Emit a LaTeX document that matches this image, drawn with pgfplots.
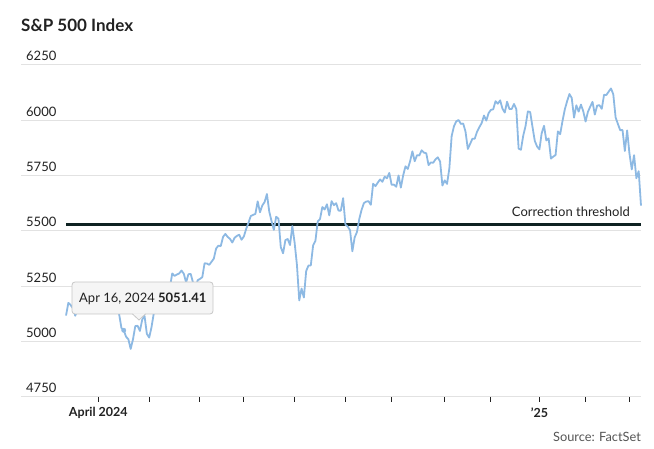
\documentclass[border=0pt]{standalone}
\usepackage{fontspec}
\setmainfont{Lato}
\usepackage{pgfplots}
\usepackage{pgfplotstable}
\pgfplotsset{compat=1.18}

\definecolor{spline}{HTML}{8DB9E3}
\definecolor{thresh}{HTML}{0E2222}
\definecolor{gridc}{HTML}{E2E2E2}
\definecolor{txt}{HTML}{222222}
\definecolor{srcc}{HTML}{555555}

% daily closes, 11 Mar 2024 -- 10 Mar 2025 (one row per trading day)
\pgfplotstableread{
close
5117.94
5175.27
5165.31
5150.48
5117.09
5149.42
5178.51
5224.62
5241.53
5234.18
5218.19
5203.58
5248.49
5254.35
5243.77
5205.81
5211.49
5147.21
5204.34
5202.39
5209.91
5160.64
5199.06
5123.41
5061.82
5051.41
5022.21
5011.12
4967.23
5010.60
5070.55
5071.63
5048.42
5099.96
5116.17
5035.69
5018.39
5064.20
5127.79
5180.74
5187.70
5187.67
5214.08
5222.68
5221.42
5246.68
5308.15
5297.10
5303.27
5308.13
5321.41
5307.01
5267.84
5304.72
5306.04
5266.95
5235.48
5277.51
5283.40
5291.34
5354.03
5352.96
5346.99
5360.79
5375.32
5421.03
5433.74
5431.60
5473.23
5487.03
5473.17
5464.62
5447.87
5469.30
5477.90
5482.87
5460.48
5475.09
5509.01
5537.02
5567.19
5572.85
5576.98
5633.91
5584.54
5615.35
5631.22
5667.20
5588.27
5544.59
5505.00
5564.41
5555.74
5427.13
5399.22
5459.10
5463.54
5436.44
5522.30
5446.68
5346.56
5186.33
5240.03
5199.50
5319.31
5344.16
5344.39
5434.43
5455.21
5543.22
5554.25
5608.25
5597.12
5620.85
5570.64
5634.61
5616.84
5625.80
5592.18
5591.96
5648.40
5528.93
5520.07
5503.41
5408.42
5471.05
5495.52
5554.13
5595.76
5626.02
5633.09
5634.58
5618.26
5713.64
5702.55
5718.57
5732.93
5722.26
5745.37
5738.17
5762.48
5708.75
5709.54
5699.94
5751.07
5695.94
5751.13
5792.04
5780.05
5815.03
5859.85
5815.26
5842.47
5841.47
5864.67
5853.98
5851.20
5797.42
5809.86
5808.12
5823.52
5832.92
5813.67
5705.45
5728.80
5712.69
5782.76
5929.04
5973.10
5995.54
6001.35
5983.99
5985.38
5949.17
5870.62
5893.62
5916.98
5917.11
5948.71
5969.34
5987.37
6021.63
5998.74
6032.38
6047.15
6049.88
6086.49
6075.11
6090.27
6052.85
6034.91
6084.19
6051.25
6051.09
6074.08
6050.61
5872.16
5867.08
5930.85
5974.07
6040.04
6037.59
5970.84
5906.94
5881.63
5868.55
5942.47
5975.38
5909.03
5918.25
5827.04
5836.22
5842.91
5949.91
5937.34
5996.66
6049.24
6086.37
6118.71
6101.24
6012.28
6067.70
6039.31
6071.17
6040.53
5994.57
6037.88
6061.48
6083.57
6025.99
6066.44
6068.50
6051.97
6115.07
6114.63
6129.58
6144.15
6117.52
6013.13
5983.25
5955.25
5956.06
5861.57
5954.50
5849.72
5778.15
5842.63
5738.52
5770.20
5614.56
}\spx

\begin{document}
\begin{tikzpicture}[x=1pt,y=1pt]
\path[use as bounding box] (0,0) rectangle (654,449);

\begin{axis}[
  at={(21pt,52pt)}, anchor=south west,
  scale only axis, width=620pt, height=332pt,
  xmin=-19.5, xmax=249, ymin=4750, ymax=6250,
  axis x line*=bottom, axis y line*=left,
  axis line style={draw=none},
  ytick={4750,5000,5250,5500,5750,6000,6250},
  yticklabels={4750,5000,5250,5500,5750,6000,6250},
  ytick style={draw=none},
  yticklabel style={anchor=base west, inner sep=0pt, xshift=10pt, yshift=4pt,
    font=\fontsize{13}{13}\selectfont, text=txt},
  ymajorgrids, grid style={gridc, line width=1pt},
  xtick={14,36,58,77,99,121,141,164,184,205,225,244},
  xticklabels={April 2024,,,,,,,,,’25,,},
  tick align=outside, major tick length=5pt,
  xtick style={draw=txt, line width=1pt},
  xticklabel style={font=\fontsize{12.5}{12.5}\bfseries, text=txt, yshift=-2pt},
  clip=false,
]
\addplot[draw=thresh, line width=2.2pt] coordinates {(0,5529.7) (249,5529.7)};
\addplot[draw=spline, line width=1.8pt, line join=round] table[x expr=\coordindex, y=close] {\spx};
\addplot[only marks, mark=*, mark size=2.2pt, color=spline] coordinates {(25,5051.41)};
\node[anchor=base east, inner sep=0pt, text=txt, font=\fontsize{13}{13}\selectfont]
  at (axis cs:244.3,5565) {Correction threshold};
\end{axis}

% title and source
\node[anchor=base west, inner sep=0pt, text=txt, font=\fontsize{17}{17}\bfseries]
  at (21,417.5) {S\&P 500 Index};
\node[anchor=base east, inner sep=0pt, text=srcc, font=\fontsize{12.8}{12.8}\selectfont]
  at (641,7.5) {Source: FactSet};

% tooltip
\fill[fill=white!96!black, draw=black!22, line width=0.8pt, rounded corners=3pt]
  (72,135) rectangle (213,167);
\fill[white!96!black] (132.5,135.6) -- (139,129) -- (145.5,135.6) -- cycle;
\draw[black!22, line width=0.8pt] (132.5,135) -- (139,129) -- (145.5,135);
\node[anchor=base west, inner sep=0pt, text=txt, font=\fontsize{13}{13}\selectfont]
  at (79,146.5) {Apr 16, 2024 \textbf{5051.41}};
\end{tikzpicture}
\end{document}
